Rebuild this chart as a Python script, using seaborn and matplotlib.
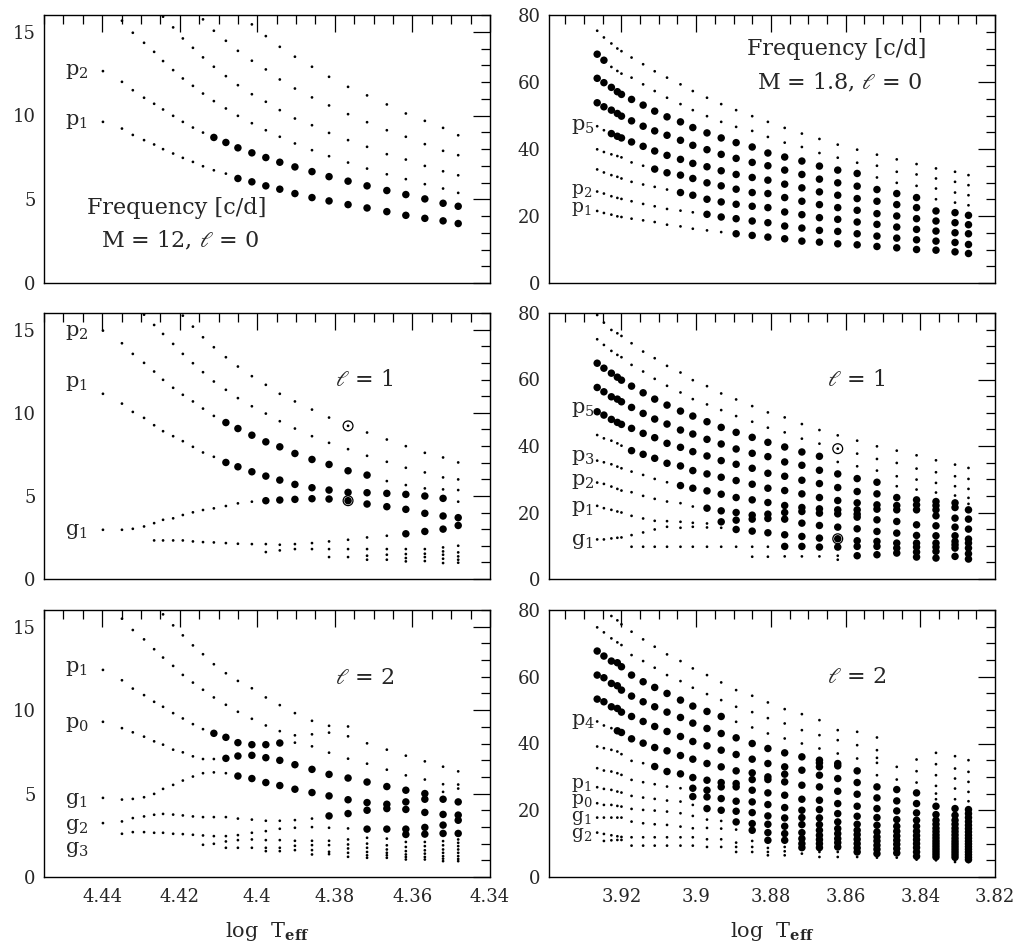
import numpy as np
import pandas as pd
import matplotlib
matplotlib.use("Agg")
import matplotlib.pyplot as plt
import seaborn as sns
from matplotlib.ticker import MultipleLocator, FuncFormatter

nan = np.nan

# ---------------- model temperatures (log Teff) ----------------
teff_m12 = [4.4398, 4.4349, 4.4321, 4.4292, 4.4266, 4.4243, 4.4217, 4.4192, 4.4166,
            4.4140, 4.4112, 4.4081, 4.4050, 4.4014, 4.3978, 4.3942, 4.3903, 4.3859,
            4.3815, 4.3766, 4.3717, 4.3666, 4.3617, 4.3568, 4.3521, 4.3482]
teff_m18 = [3.9265, 3.9247, 3.9227, 3.9211, 3.9200, 3.9173, 3.9142, 3.9111, 3.9078,
            3.9042, 3.9009, 3.8971, 3.8933, 3.8893, 3.8850, 3.8808, 3.8763, 3.8717,
            3.8670, 3.8621, 3.8569, 3.8516, 3.8463, 3.8410, 3.8358, 3.8307, 3.8271]

# ---------------- M = 12, l = 0 (tracks) ----------------
m12_l0_p1 = [9.62, 9.22, 8.84, 8.53, 8.27, 7.99, 7.73, 7.47, 7.23, 6.97, 6.73, 6.53, 6.24,
             6.04, 5.80, 5.60, 5.34, 5.10, 4.90, 4.68, 4.48, 4.26, 4.04, 3.86, 3.71, 3.55]
m12_l0_p2 = [12.65, 12.01, 11.51, 11.06, 10.70, 10.36, 9.98, 9.62, 9.28, 8.98, 8.69, 8.39, 8.07,
             7.77, 7.49, 7.21, 6.93, 6.65, 6.35, 6.08, 5.80, 5.52, 5.28, 5.02, 4.76, 4.58]
m12_l0_p3 = [nan, 15.66, 14.94, 14.34, 13.80, 13.25, 12.71, 12.21, 11.77, 11.31, 10.86, 10.42, 9.98,
             9.54, 9.12, 8.73, 8.33, 7.93, 7.57, 7.19, 6.83, 6.49, 6.20, 5.90, 5.64, 5.38]
m12_l0_p4 = [nan] * 5 + [15.90, 15.26, 14.60, 14.04, 13.47, 12.91, 12.35, 11.81, 11.27, 10.82,
                         10.32, 9.82, 9.42, 8.96, 8.53, 8.13, 7.69, 7.37, 6.99, 6.67, 6.43]
m12_l0_p5 = [nan] * 9 + [15.74, 15.06, 14.46, 13.86, 13.27, 12.75, 12.15, 11.61, 11.08, 10.60,
                         10.08, 9.60, 9.12, 8.73, 8.29, 7.89, 7.63]
m12_l0_p6 = [nan] * 13 + [15.44, 14.74, 14.10, 13.51, 12.91, 12.31, 11.71, 11.20, 10.66, 10.12,
                          9.68, 9.26, 8.82]
m12_l0_tracks = [m12_l0_p1, m12_l0_p2, m12_l0_p3, m12_l0_p4, m12_l0_p5, m12_l0_p6]
m12_l0_unstable = [(12, 25), (10, 25), None, None, None, None]

# ---------------- M = 12, l = 1 (tracks) ----------------
m12_l1_p4 = [nan] * 7 + [15.84, 15.18, 14.54, 13.94, 13.34, 12.78, 12.20, 11.68, 11.14, 10.68,
                         10.19, 9.71, 9.21, 8.81, 8.39, 7.99, 7.59, 7.31, 7.01]
m12_l1_p3 = [nan] * 3 + [15.90, 15.28, 14.74, 14.14, 13.54, 12.98, 12.44, 11.88, 11.38, 10.88,
                         10.39, 9.95, 9.49, 9.05, 8.59, 8.19, 7.81, 7.41, 7.05, 6.69, 6.41, 6.11, 5.99]
m12_l1_p2 = [14.94, 14.18, 13.54, 13.00, 12.48, 11.98, 11.50, 11.08, 10.68, 10.25, 9.81, 9.41, 9.05,
             8.65, 8.25, 7.95, 7.55, 7.19, 6.89, 6.51, 6.25, 5.89, 5.65, 5.45, 5.39, 5.35]
m12_l1_p1 = [11.14, 10.55, 10.05, 9.69, 9.25, 8.89, 8.59, 8.29, 7.95, 7.61, 7.35, 7.01, 6.75,
             6.45, 6.19, 5.95, 5.69, 5.49, 5.35, 5.21, 5.19, 5.15, 5.09, 4.99, 4.85, 4.65]
m12_l1_g1 = [2.96, 2.96, 3.02, 3.16, 3.36, 3.56, 3.65, 3.85, 4.01, 4.15, 4.25, 4.39, 4.55,
             4.65, 4.71, 4.75, 4.79, 4.83, 4.81, 4.71, 4.51, 4.35, 4.19, 3.95, 3.79, 3.69]
m12_l1_g2 = [nan] * 4 + [2.32, 2.32, 2.32, 2.32, 2.26, 2.22, 2.20, 2.16, 2.12, 2.10, 2.10, 2.06,
                         2.10, 2.16, 2.26, 2.36, 2.50, 2.60, 2.72, 2.86, 3.00, 3.22]
m12_l1_g3 = [nan] * 14 + [1.62, 1.72, 1.80, 1.80, 1.80, 1.80, 1.80, 1.80, 1.80, 1.80, 1.90, 2.00]
m12_l1_g4 = [nan] * 18 + [1.32, 1.32, 1.40, 1.46, 1.50, 1.52, 1.66, 1.60]
m12_l1_g5 = [nan] * 20 + [1.16, 1.16, 1.26, 1.32, 1.46, 1.36]
m12_l1_g6 = [nan] * 22 + [1.06, 1.08, 1.22, 1.16]
m12_l1_g7 = [nan] * 24 + [0.96, 0.98]
m12_l1_tracks = [m12_l1_p4, m12_l1_p3, m12_l1_p2, m12_l1_p1, m12_l1_g1, m12_l1_g2,
                 m12_l1_g3, m12_l1_g4, m12_l1_g5, m12_l1_g6, m12_l1_g7]
m12_l1_unstable = [None, None, (11, 20), (11, 24), (14, 25), (22, 25),
                   None, None, None, None, None]
m12_l1_obs_teff = [4.3766, 4.3766]
m12_l1_obs_freq = [9.21, 4.71]

# ---------------- M = 12, l = 2 (tracks) ----------------
m12_l2_p3 = [nan] * 5 + [15.74, 15.08, 14.48, 13.88, 13.35, 12.75, 12.21, 11.75, 11.31, 10.76,
                         10.30, 9.82, 9.36, 9.06, 9.02, 8.01, 7.63, 7.27, 6.93, 6.61, 6.33]
m12_l2_p2 = [nan, 15.48, 14.80, 14.24, 13.65, 13.15, 12.65, 12.11, 11.65, 11.22, 10.76, 10.32, 9.90,
             9.48, 9.08, 8.74, 8.49, 8.55, 8.65, 8.43, nan, nan, nan, nan, nan, nan]
m12_l2_p1 = [12.41, 11.79, 11.29, 10.90, 10.50, 10.20, 9.82, 9.50, 9.16, 8.86, 8.61, 8.37, 8.05,
             7.93, 7.93, 8.03, 8.05, 7.83, 7.45, 7.09, 6.79, 6.43, 6.09, 5.84, 5.56, 5.54]
m12_l2_p0 = [9.30, 8.92, 8.67, 8.41, 8.13, 7.93, 7.63, 7.47, 7.23, 7.07, 7.07, 7.11, 7.25,
             7.29, 7.15, 6.99, 6.73, 6.45, 6.15, 5.93, 5.69, 5.42, 5.20, 5.00, 5.10, 5.30]
m12_l2_g1 = [4.74, 4.64, 4.68, 4.78, 4.98, 5.28, 5.52, 5.78, 6.02, 6.22, 6.27, 6.22, 6.05,
             5.90, 5.66, 5.48, 5.26, 5.06, 4.86, 4.63, 4.46, 4.36, 4.50, 4.66, 4.66, 4.50]
m12_l2_g2 = [3.23, 3.33, 3.53, 3.63, 3.73, 3.78, 3.74, 3.69, 3.63, 3.59, 3.59, 3.59, 3.50,
             3.44, 3.37, 3.37, 3.41, 3.50, 3.66, 3.80, 4.00, 4.10, 4.05, 3.87, 3.75, 3.71]
m12_l2_g3 = [nan, 2.59, 2.69, 2.69, 2.65, 2.65, 2.59, 2.57, 2.53, 2.49, 2.45, 2.45, 2.51,
             2.65, 2.75, 2.89, 2.95, 2.99, 2.95, 2.91, 2.87, 2.87, 2.87, 2.97, 3.11, 3.40]
m12_l2_g4 = [nan] * 9 + [1.93, 1.99, 2.13, 2.21, 2.25, 2.21, 2.21, 2.17, 2.17, 2.17, 2.25, 2.35,
                         2.30, 2.55, 2.57, 2.61, 2.61]
m12_l2_g5 = [nan] * 11 + [1.75, 1.75, 1.75, 1.75, 1.75, 1.87, 1.91, 1.91, 1.95, 2.00, 1.90,
                          2.10, 2.10, 2.15, 2.25]
m12_l2_g6 = [nan] * 14 + [1.55, 1.55, 1.61, 1.61, 1.51, 1.71, 1.75, 1.65, 1.80, 1.85, 1.90, 2.05]
m12_l2_g7 = [nan] * 17 + [1.35, 1.37, 1.45, 1.50, 1.45, 1.55, 1.60, 1.65, 1.85]
m12_l2_g8 = [nan] * 19 + [1.21, 1.30, 1.30, 1.35, 1.40, 1.45, 1.65]
m12_l2_g9 = [nan] * 20 + [1.15, 1.15, 1.20, 1.20, 1.25, 1.45]
m12_l2_g10 = [nan] * 22 + [1.05, 1.05, 1.10, 1.25]
m12_l2_g11 = [nan] * 24 + [0.95, 1.08]
m12_l2_g12 = [nan] * 25 + [0.95]
m12_l2_tracks = [m12_l2_p3, m12_l2_p2, m12_l2_p1, m12_l2_p0, m12_l2_g1, m12_l2_g2, m12_l2_g3,
                 m12_l2_g4, m12_l2_g5, m12_l2_g6, m12_l2_g7, m12_l2_g8, m12_l2_g9,
                 m12_l2_g10, m12_l2_g11, m12_l2_g12]
m12_l2_unstable = [None, None, (10, 15), (11, 23), (12, 25), (18, 25), (20, 25),
                   (22, 25), None, None, None, None, None, None, None, None]

# ---------------- M = 1.8, l = 0 (tracks) ----------------
m18_l0_p9 = [75.3, 73.3, 71.5, 70.0, 69.2, 67.3, 65.3, 63.2, 61.3, 59.3, 57.3, 55.3, 53.4, 51.6,
             49.8, 48.1, 46.3, 44.6, 43.0, 41.3, 39.8, 38.3, 36.9, 35.5, 34.2, 33.2, 32.2]
m18_l0_p8 = [68.3, 66.5, 64.5, 63.3, 62.5, 61.3, 59.3, 57.3, 55.3, 53.4, 51.6, 49.8, 48.1, 46.6,
             45.4, 43.6, 41.9, 40.6, 38.8, 37.4, 35.9, 35.0, 33.2, 32.4, 31.2, 30.2, 29.2]
m18_l0_p7 = [61.1, 59.8, 58.4, 57.1, 56.3, 54.8, 53.1, 51.3, 49.6, 48.1, 46.4, 44.8, 43.3, 41.9,
             40.6, 38.8, 37.6, 36.4, 34.9, 33.7, 32.7, 31.5, 29.9, 29.0, 28.2, 27.0, 26.2]
m18_l0_p6 = [53.8, 52.6, 51.6, 50.6, 49.8, 48.4, 46.8, 45.4, 44.1, 42.6, 41.1, 39.8, 38.4, 37.2,
             36.0, 35.0, 33.7, 32.4, 31.0, 29.9, 28.9, 27.9, 26.7, 25.5, 25.0, 24.0, 23.2]
m18_l0_p5 = [46.8, 45.6, 44.6, 43.8, 43.3, 42.1, 40.8, 39.4, 38.1, 36.9, 35.7, 34.7, 33.5, 32.4,
             31.5, 30.7, 29.5, 28.4, 27.2, 26.2, 25.2, 24.4, 23.4, 22.5, 21.5, 21.0, 20.2]
m18_l0_p4 = [39.9, 39.1, 38.4, 37.9, 37.5, 36.0, 35.0, 34.0, 32.9, 32.2, 31.2, 29.9, 29.0, 28.0,
             27.0, 26.7, 25.5, 24.4, 23.4, 22.5, 21.7, 20.7, 20.0, 19.2, 18.5, 18.0, 17.4]
m18_l0_p3 = [33.9, 33.0, 32.2, 31.7, 31.2, 30.2, 29.4, 28.7, 27.9, 27.0, 26.2, 25.0, 24.2, 23.5,
             22.9, 22.5, 21.2, 20.4, 19.5, 19.0, 18.2, 17.5, 16.7, 16.0, 15.5, 15.0, 14.7]
m18_l0_p2 = [27.3, 26.7, 25.9, 25.4, 25.1, 24.4, 23.6, 22.9, 22.1, 21.6, 21.1, 20.5, 19.7, 19.2,
             18.5, 18.0, 17.0, 16.4, 15.7, 15.4, 14.7, 14.0, 13.4, 12.9, 12.5, 12.1, 11.5]
m18_l0_p1 = [21.5, 20.9, 20.4, 19.9, 19.7, 19.2, 18.7, 18.2, 17.4, 16.9, 16.2, 15.7, 15.2, 14.7,
             14.2, 13.7, 13.2, 12.5, 12.2, 11.7, 11.4, 10.9, 10.5, 10.0, 9.8, 9.3, 8.8]
m18_l0_tracks = [m18_l0_p9, m18_l0_p8, m18_l0_p7, m18_l0_p6, m18_l0_p5,
                 m18_l0_p4, m18_l0_p3, m18_l0_p2, m18_l0_p1]
m18_l0_unstable = [None, (0, 1), (0, 20), (0, 23), (2, 26), (7, 26), (9, 26), (11, 26), (13, 26)]

# ---------------- M = 1.8, l = 1 (per model column) ----------------
m18_l1_stable = [
    [79.4, 72.1, 43.3, 35.6, 29.0, 22.0, 11.9],
    [77.1, 70.4, 42.3, 35.1, 28.6, 21.3, 11.9],
    [74.9, 68.6, 41.6, 34.5, 27.8, 20.8, 12.2],
    [73.9, 67.4, 40.8, 33.8, 27.1, 20.3, 12.4],
    [73.1, 66.7, 40.1, 33.3, 26.6, 20.0, 12.5],
    [70.9, 64.4, 32.3, 26.1, 19.0, 13.2, 9.7],
    [68.4, 62.4, 31.3, 25.0, 18.2, 14.0, 9.7],
    [66.4, 60.2, 30.1, 24.1, 17.5, 14.9, 9.7],
    [64.1, 58.1, 29.1, 23.3, 17.4, 15.7, 9.7],
    [62.1, 56.1, 22.8, 17.2, 15.4, 9.7],
    [59.8, 54.1, 21.8, 16.9, 15.7, 9.7],
    [58.0, 52.5, 16.7, 15.5, 9.7],
    [55.8, 50.8, 15.4, 9.7],
    [54.0, 49.0, 9.7],
    [52.0, 47.3, 9.7, 6.7],
    [50.1, 45.5, 9.7, 6.7],
    [48.6, 44.1, 6.8],
    [46.6, 42.2, 6.8],
    [44.8, 40.7, 6.8],
    [43.2, 39.2, 35.2, 7.0, 5.8],
    [41.6, 37.7, 33.9],
    [39.9, 36.1, 32.6],
    [38.6, 34.9, 30.9, 27.9],
    [37.2, 33.2, 29.9, 26.9],
    [35.7, 32.1, 28.9, 26.0],
    [34.4, 30.9, 27.9, 25.1],
    [33.4, 30.1, 27.1, 24.4, 22.6],
]
m18_l1_unstable = [
    [64.9, 57.6, 50.3],
    [63.4, 56.3, 49.3],
    [61.9, 54.8, 48.0],
    [60.7, 54.1, 47.1],
    [59.8, 53.3, 46.5],
    [58.0, 51.6, 45.3, 38.6],
    [56.0, 49.8, 43.8, 37.5],
    [54.1, 48.1, 42.5, 36.3],
    [52.3, 46.6, 40.8, 34.8],
    [50.5, 44.8, 39.6, 34.0, 28.1],
    [49.0, 43.6, 38.3, 32.6, 27.3],
    [47.3, 42.0, 37.0, 31.6, 26.5, 21.3],
    [45.6, 40.6, 35.6, 30.6, 25.5, 20.5, 17.2],
    [44.1, 39.1, 34.5, 29.6, 24.5, 20.0, 17.7, 14.9],
    [42.6, 37.8, 33.3, 28.5, 23.8, 19.2, 18.0, 14.4],
    [41.1, 36.8, 31.8, 27.3, 23.0, 19.5, 18.2, 13.9],
    [39.7, 35.2, 30.9, 26.6, 22.1, 20.0, 18.0, 13.3, 9.8],
    [38.2, 34.2, 29.7, 25.6, 21.5, 20.3, 16.8, 12.8, 9.8],
    [36.9, 32.7, 28.7, 24.5, 21.1, 19.8, 16.1, 12.3, 9.6],
    [31.6, 27.5, 23.6, 20.8, 19.6, 15.6, 12.1, 9.6],
    [30.2, 26.3, 22.9, 20.8, 19.5, 18.6, 15.1, 11.5, 9.8, 7.0],
    [29.1, 25.6, 22.3, 21.0, 17.8, 14.3, 11.3, 9.8, 7.3],
    [24.5, 22.1, 20.8, 17.3, 13.8, 10.8, 9.3, 7.8],
    [23.8, 22.3, 20.8, 16.3, 13.1, 10.8, 9.6, 8.1, 6.6],
    [23.3, 22.1, 20.8, 19.0, 16.0, 13.0, 10.8, 9.6, 8.3, 6.3],
    [22.9, 21.5, 18.3, 15.6, 13.0, 11.3, 10.3, 9.3, 6.8],
    [20.8, 18.0, 15.0, 12.0, 10.8, 9.3, 7.6, 6.0],
]
m18_l1_obs_teff = [3.8621, 3.8621]
m18_l1_obs_freq = [39.2, 12.1]

# ---------------- M = 1.8, l = 2 (per model column) ----------------
m18_l2_stable = [
    [74.8, 46.6, 39.1, 32.6, 26.9, 22.1, 17.8, 13.3],
    [73.3, 45.4, 38.6, 31.9, 26.4, 21.6, 17.8, 12.9, 10.8],
    [78.2, 71.5, 44.6, 38.1, 31.6, 26.1, 21.6, 17.8, 12.5, 11.0],
    [76.9, 70.3, 37.6, 31.1, 25.6, 21.3, 17.8, 12.2, 11.1],
    [75.7, 69.5, 36.8, 30.6, 25.3, 21.1, 17.8, 12.0, 11.1],
    [73.5, 66.5, 34.8, 29.1, 24.3, 20.4, 16.6, 11.9, 9.4],
    [71.2, 64.7, 34.1, 28.4, 23.8, 20.1, 16.1, 11.9, 9.4],
    [69.0, 62.7, 27.8, 23.4, 19.9, 15.8, 11.9, 9.4],
    [66.7, 60.5, 27.1, 22.9, 19.6, 15.6, 11.9, 9.4],
    [64.7, 58.7, 26.6, 22.6, 19.1, 15.1, 11.9, 9.4],
    [62.5, 56.7, 21.6, 18.3, 14.6, 11.9, 9.4],
    [60.5, 54.8, 17.2, 14.7, 11.3, 9.0],
    [58.3, 53.0, 16.8, 14.5, 11.3, 9.0],
    [56.0, 51.0, 46.5, 14.2, 10.3, 9.0, 7.5],
    [54.3, 49.4, 44.8, 10.8, 9.0, 7.5],
    [52.3, 47.6, 43.0, 8.7, 7.5, 6.5],
    [50.3, 46.0, 41.5, 9.0, 7.7, 6.5],
    [48.8, 44.0, 40.0, 7.0],
    [47.0, 42.5, 38.5, 7.5, 6.0],
    [44.0, 41.0, 37.0, 7.5, 6.0],
    [43.5, 39.5, 35.5, 6.0],
    [41.8, 38.0, 35.7, 34.2, 30.5, 5.8],
    [33.0, 29.2, 5.8],
    [35.2, 31.7, 28.3, 5.2],
    [37.2, 33.8, 30.5, 27.3, 25.0, 23.3, 5.0],
    [36.2, 32.5, 29.5, 26.5, 23.3, 5.0, 4.5],
    [35.0, 31.5, 28.5, 25.5, 22.7, 4.5],
]
m18_l2_unstable = [
    [67.7, 60.5, 53.3],
    [66.2, 59.7, 52.5],
    [64.7, 58.0, 51.0],
    [64.2, 57.3, 50.5, 43.8],
    [63.0, 56.0, 49.4, 43.3],
    [60.5, 54.2, 48.1, 41.4],
    [58.5, 52.5, 46.6, 40.1],
    [56.8, 51.0, 45.1, 38.8, 33.1],
    [55.0, 49.4, 43.6, 37.8, 31.6],
    [53.0, 47.8, 42.1, 36.4, 30.9],
    [51.2, 46.1, 40.6, 35.3, 29.8, 26.6, 24.1],
    [49.6, 44.5, 39.3, 34.0, 29.0, 26.0, 24.0, 20.5],
    [48.1, 43.0, 38.0, 33.0, 28.3, 27.0, 23.5, 20.0],
    [41.7, 36.7, 31.8, 28.0, 27.0, 22.7, 19.7, 16.5],
    [40.0, 35.3, 31.2, 29.2, 26.0, 22.5, 19.3, 16.0, 14.0],
    [38.5, 34.0, 30.0, 29.2, 25.2, 21.7, 18.3, 15.8, 13.3, 11.0],
    [37.2, 33.0, 30.8, 28.5, 24.5, 20.8, 17.7, 15.2, 13.0, 11.0],
    [36.0, 32.0, 27.5, 23.3, 20.0, 17.8, 15.7, 13.3, 11.5, 10.0, 8.8],
    [35.0, 34.2, 33.0, 30.5, 27.0, 23.0, 20.2, 17.7, 15.7, 14.0, 12.5, 11.2, 10.0, 8.8],
    [34.0, 33.3, 29.5, 25.7, 22.0, 19.0, 16.5, 14.5, 13.0, 11.5, 10.3, 9.0],
    [31.8, 28.3, 24.8, 21.2, 18.2, 15.8, 14.0, 12.7, 11.3, 10.0, 8.7, 7.5],
    [27.0, 23.7, 20.5, 17.8, 15.5, 13.5, 12.0, 10.8, 9.5, 8.3, 7.0],
    [26.2, 22.8, 19.8, 17.2, 15.2, 13.7, 12.3, 11.0, 9.8, 8.5, 7.2],
    [25.2, 22.0, 19.2, 17.0, 15.2, 13.7, 12.4, 11.2, 10.0, 8.8, 7.5, 6.2],
    [21.2, 18.7, 17.0, 15.8, 14.6, 13.6, 12.6, 11.7, 10.8, 10.0, 9.2, 8.4, 7.6, 6.8, 6.0],
    [20.5, 18.5, 17.0, 15.8, 14.6, 13.6, 12.6, 11.6, 10.7, 9.9, 9.1, 8.3, 7.5, 6.7, 5.9],
    [20.2, 19.0, 17.8, 16.6, 15.5, 14.5, 13.5, 12.5, 11.6, 10.7, 9.9, 9.1, 8.3, 7.5,
     6.7, 5.9, 5.2],
]


# ---------------- helpers to build long-form tables ----------------
def from_tracks(teff, tracks, spans):
    recs = []
    for vals, span in zip(tracks, spans):
        for i, (t, f) in enumerate(zip(teff, vals)):
            if np.isnan(f):
                continue
            state = "unstable" if (span is not None and span[0] <= i <= span[1]) else "stable"
            recs.append((t, f, state))
    return pd.DataFrame(recs, columns=["teff", "freq", "state"])


def from_columns(teff, stable_cols, unstable_cols):
    recs = []
    for t, s_list, u_list in zip(teff, stable_cols, unstable_cols):
        recs += [(t, f, "stable") for f in s_list]
        recs += [(t, f, "unstable") for f in u_list]
    return pd.DataFrame(recs, columns=["teff", "freq", "state"])


# ---------------- figure ----------------
sns.set_style("white")
plt.rcParams["font.family"] = ["DejaVu Serif"]
plt.rcParams["mathtext.fontset"] = "dejavuserif"
plt.rcParams["axes.linewidth"] = 1.0
plt.rcParams["axes.edgecolor"] = "black"

W, H = 1021, 943
fig = plt.figure(figsize=(W / 100, H / 100), dpi=100)


def add_ax(px_left, px_top, px_right, px_bottom):
    return fig.add_axes([px_left / W, 1 - px_bottom / H,
                         (px_right - px_left) / W, (px_bottom - px_top) / H])


rows_px = [(15, 283), (313, 579), (610, 877)]
ax_left = [add_ax(44, t, 490, b) for t, b in rows_px]
ax_right = [add_ax(549, t, 995, b) for t, b in rows_px]

fmt = FuncFormatter(lambda v, p: f"{round(v, 4):g}")


def style(ax, xlim, ylim, xmaj, xmin, ymaj, ymin, bottom_labels):
    ax.set_xlim(*xlim)
    ax.set_ylim(*ylim)
    ax.xaxis.set_major_locator(MultipleLocator(xmaj))
    ax.xaxis.set_minor_locator(MultipleLocator(xmin))
    ax.yaxis.set_major_locator(MultipleLocator(ymaj))
    ax.yaxis.set_minor_locator(MultipleLocator(ymin))
    ax.xaxis.set_major_formatter(fmt)
    ax.yaxis.set_major_formatter(fmt)
    ax.tick_params(which="both", direction="in", top=True, right=True,
                   width=0.9, color="black", labelsize=13)
    ax.tick_params(which="major", length=12.5)
    ax.tick_params(which="minor", length=6.5)
    ax.tick_params(axis="y", pad=6)
    ax.tick_params(axis="x", pad=8)
    if not bottom_labels:
        ax.tick_params(axis="x", labelbottom=False)
    ax.set_xlabel("")
    ax.set_ylabel("")


def draw(ax, df):
    sns.scatterplot(data=df, x="teff", y="freq", size="state",
                    sizes={"stable": 3.8, "unstable": 29},
                    color="black", linewidth=0, edgecolor="none",
                    legend=False, ax=ax)


panels_left = [
    from_tracks(teff_m12, m12_l0_tracks, m12_l0_unstable),
    from_tracks(teff_m12, m12_l1_tracks, m12_l1_unstable),
    from_tracks(teff_m12, m12_l2_tracks, m12_l2_unstable),
]
panels_right = [
    from_tracks(teff_m18, m18_l0_tracks, m18_l0_unstable),
    from_columns(teff_m18, m18_l1_stable, m18_l1_unstable),
    from_columns(teff_m18, m18_l2_stable, m18_l2_unstable),
]

for i, (ax, df) in enumerate(zip(ax_left, panels_left)):
    draw(ax, df)
    style(ax, (4.455, 4.34), (0, 16), 0.02, 0.005, 5, 1, i == 2)
for i, (ax, df) in enumerate(zip(ax_right, panels_right)):
    draw(ax, df)
    style(ax, (3.9394, 3.82), (0, 80), 0.02, 0.005, 20, 5, i == 2)

# observed modes (open circles)
ax_left[1].scatter(m12_l1_obs_teff, m12_l1_obs_freq, s=50, facecolors="none",
                   edgecolors="black", linewidths=0.9, zorder=5)
ax_right[1].scatter(m18_l1_obs_teff, m18_l1_obs_freq, s=50, facecolors="none",
                    edgecolors="black", linewidths=0.9, zorder=5)

# ---------------- annotations ----------------
lab_kw = dict(fontsize=15, ha="left", va="center")
lab_small = dict(fontsize=13.5, ha="left", va="center")
big_kw = dict(fontsize=16, ha="center", va="center")
xl, xr = 4.4497, 3.9334

a = ax_left[0]
a.text(xl, 12.65, r"p$_2$", **lab_kw)
a.text(xl, 9.62, r"p$_1$", **lab_kw)
a.text(4.4207, 4.5, "Frequency [c/d]", **big_kw)
a.text(4.4199, 2.5, r"M = 12, $\ell$ = 0", **big_kw)

a = ax_left[1]
a.text(xl, 14.8, r"p$_2$", **lab_kw)
a.text(xl, 11.75, r"p$_1$", **lab_kw)
a.text(xl, 2.85, r"g$_1$", **lab_kw)
a.text(4.3725, 11.95, r"$\ell$ = 1", **big_kw)

a = ax_left[2]
a.text(xl, 12.5, r"p$_1$", **lab_kw)
a.text(xl, 9.15, r"p$_0$", **lab_kw)
a.text(xl, 4.6, r"g$_1$", **lab_kw)
a.text(xl, 3.05, r"g$_2$", **lab_kw)
a.text(xl, 1.65, r"g$_3$", **lab_kw)
a.text(4.3723, 11.95, r"$\ell$ = 2", **big_kw)

a = ax_right[0]
a.text(xr, 46.7, r"p$_5$", **lab_kw)
a.text(xr, 27.6, r"p$_2$", **lab_small)
a.text(xr, 22.2, r"p$_1$", **lab_small)
a.text(3.8625, 69.8, "Frequency [c/d]", **big_kw)
a.text(3.8616, 59.8, r"M = 1.8, $\ell$ = 0", **big_kw)

a = ax_right[1]
a.text(xr, 50.9, r"p$_5$", **lab_kw)
a.text(xr, 36.6, r"p$_3$", **lab_kw)
a.text(xr, 29.2, r"p$_2$", **lab_kw)
a.text(xr, 21.2, r"p$_1$", **lab_kw)
a.text(xr, 11.3, r"g$_1$", **lab_kw)
a.text(3.857, 59.9, r"$\ell$ = 1", **big_kw)

a = ax_right[2]
a.text(xr, 46.6, r"p$_4$", **lab_kw)
a.text(xr, 27.7, r"p$_1$", **lab_small)
a.text(xr, 22.9, r"p$_0$", **lab_small)
a.text(xr, 17.6, r"g$_1$", **lab_small)
a.text(xr, 12.6, r"g$_2$", **lab_small)
a.text(3.857, 60.0, r"$\ell$ = 2", **big_kw)

for ax in (ax_left[2], ax_right[2]):
    ax.set_xlabel(r"log  T$_{\mathbf{eff}}$", fontsize=15, labelpad=10)

fig.savefig("out.png", dpi=100)
